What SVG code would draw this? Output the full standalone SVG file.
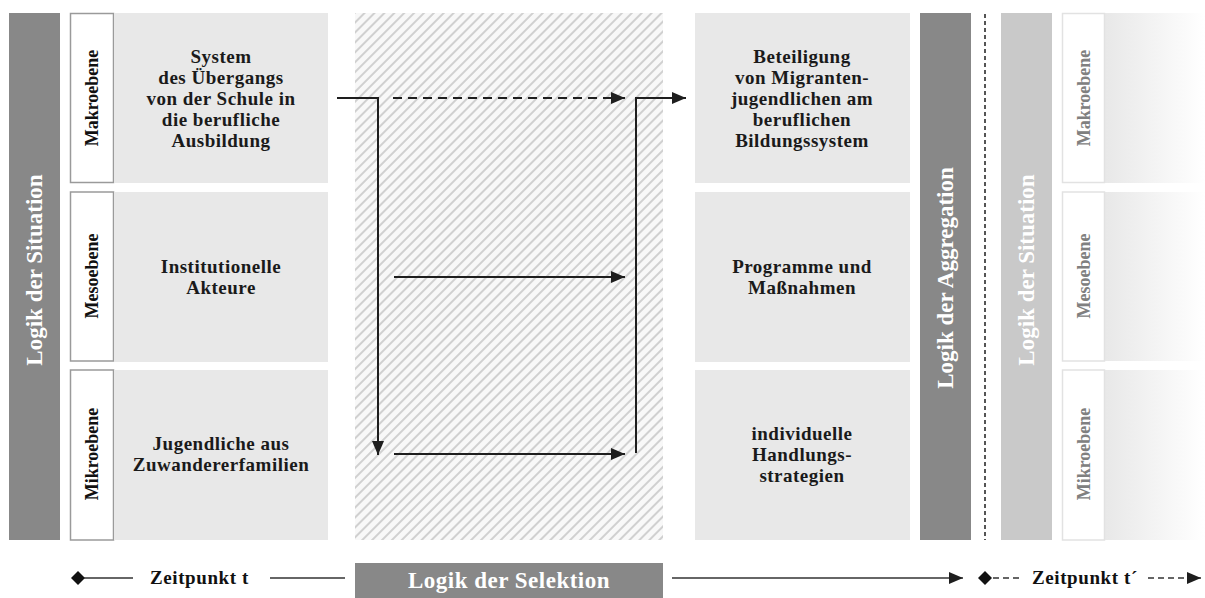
<svg xmlns="http://www.w3.org/2000/svg" width="1205" height="598" viewBox="0 0 1205 598">
<defs>
<style>
.t{font-family:"Liberation Serif","Times New Roman",serif;font-weight:bold;}
.ct{font-size:19px;fill:#1a1a1a;text-anchor:middle;letter-spacing:0.5px;}
.lv{font-size:18px;fill:#111;text-anchor:middle;}
.lvr{font-size:18px;fill:#808080;text-anchor:middle;}
.bar{font-size:23px;fill:#fff;text-anchor:middle;}
.box{fill:#e8e8e8;}
.lbox{fill:#fff;stroke:#9a9a9a;stroke-width:1.5;}
.rbox{fill:#fff;stroke:#e2e2e2;stroke-width:1.5;}
.dark{fill:#888888;}
.light{fill:#c9c9c9;}
.ln{stroke:#1e1e1e;stroke-width:2;fill:none;}
</style>
<pattern id="hatch" patternUnits="userSpaceOnUse" width="7" height="7" patternTransform="rotate(45)">
<rect width="7" height="7" fill="#f8f8f8"/>
<line x1="1" y1="0" x2="1" y2="7" stroke="#cccccc" stroke-width="1.8"/>
</pattern>
<linearGradient id="fade" x1="0" y1="0" x2="1" y2="0">
<stop offset="0" stop-color="#e8e8e8"/>
<stop offset="1" stop-color="#ffffff"/>
</linearGradient>
<marker id="ah" markerWidth="14" markerHeight="12" refX="14" refY="6" orient="auto" markerUnits="userSpaceOnUse">
<path d="M0,0 L14,6 L0,12 z" fill="#1e1e1e"/>
</marker>
</defs>
<rect width="1205" height="598" fill="#fff"/>

<g id="logik-situation-left">
<rect class="dark" x="9" y="13" width="51" height="527"/>
<text class="t bar" transform="translate(42,270) rotate(-90)">Logik der Situation</text>
</g>

<g id="level-makro-left">
<rect class="lbox" x="70.5" y="13.5" width="43" height="169"/>
<text class="t lv" transform="translate(98,98) rotate(-90)">Makroebene</text>
</g>
<g id="level-meso-left">
<rect class="lbox" x="70.5" y="192" width="43" height="169"/>
<text class="t lv" transform="translate(98,276) rotate(-90)">Mesoebene</text>
</g>
<g id="level-mikro-left">
<rect class="lbox" x="70.5" y="370" width="43" height="170"/>
<text class="t lv" transform="translate(98,454) rotate(-90)">Mikroebene</text>
</g>

<g id="node-system">
<rect class="box" x="114" y="13" width="214" height="170"/>
<text class="t ct" x="221" y="63">System</text>
<text class="t ct" x="221" y="84">des Übergangs</text>
<text class="t ct" x="221" y="105">von der Schule in</text>
<text class="t ct" x="221" y="126">die berufliche</text>
<text class="t ct" x="221" y="147">Ausbildung</text>
</g>
<g id="node-institutionelle">
<rect class="box" x="114" y="192" width="214" height="170"/>
<text class="t ct" x="221" y="273">Institutionelle</text>
<text class="t ct" x="221" y="294">Akteure</text>
</g>
<g id="node-jugendliche">
<rect class="box" x="114" y="370" width="214" height="170"/>
<text class="t ct" x="221" y="450">Jugendliche aus</text>
<text class="t ct" x="221" y="471">Zuwandererfamilien</text>
</g>

<g id="selektion-area">
<rect x="355" y="13" width="308" height="527" fill="url(#hatch)"/>
</g>

<g id="node-beteiligung">
<rect class="box" x="695" y="13" width="215" height="170"/>
<text class="t ct" x="802" y="63">Beteiligung</text>
<text class="t ct" x="802" y="84">von Migranten-</text>
<text class="t ct" x="802" y="105">jugendlichen am</text>
<text class="t ct" x="802" y="126">beruflichen</text>
<text class="t ct" x="802" y="147">Bildungssystem</text>
</g>
<g id="node-programme">
<rect class="box" x="695" y="192" width="215" height="170"/>
<text class="t ct" x="802" y="273">Programme und</text>
<text class="t ct" x="802" y="294">Maßnahmen</text>
</g>
<g id="node-individuelle">
<rect class="box" x="695" y="370" width="215" height="170"/>
<text class="t ct" x="802" y="440">individuelle</text>
<text class="t ct" x="802" y="461">Handlungs-</text>
<text class="t ct" x="802" y="482">strategien</text>
</g>

<g id="logik-aggregation">
<rect class="dark" x="920" y="13" width="51" height="527"/>
<text class="t bar" transform="translate(953,278) rotate(-90)">Logik der Aggregation</text>
</g>

<g id="divider">
<line x1="985" y1="14" x2="985" y2="540" stroke="#555" stroke-width="2" stroke-dasharray="4,3"/>
</g>

<g id="logik-situation-right">
<rect class="light" x="1001" y="13" width="51" height="527"/>
<text class="t bar" transform="translate(1034,270) rotate(-90)">Logik der Situation</text>
</g>

<g id="level-makro-right">
<rect x="1105" y="13" width="100" height="170" fill="url(#fade)"/>
<rect class="rbox" x="1062.5" y="13.5" width="42" height="169"/>
<text class="t lvr" transform="translate(1090,98) rotate(-90)">Makroebene</text>
</g>
<g id="level-meso-right">
<rect x="1105" y="192" width="100" height="169" fill="url(#fade)"/>
<rect class="rbox" x="1062.5" y="192" width="42" height="169"/>
<text class="t lvr" transform="translate(1090,276) rotate(-90)">Mesoebene</text>
</g>
<g id="level-mikro-right">
<rect x="1105" y="370" width="100" height="170" fill="url(#fade)"/>
<rect class="rbox" x="1062.5" y="370" width="42" height="170"/>
<text class="t lvr" transform="translate(1090,454) rotate(-90)">Mikroebene</text>
</g>

<g id="connectors">
<path class="ln" d="M337,98 H378 V455" marker-end="url(#ah)"/>
<path class="ln" d="M393,98 H625" stroke-dasharray="9,6" marker-end="url(#ah)"/>
<path class="ln" d="M394,277 H625" marker-end="url(#ah)"/>
<path class="ln" d="M394,454 H625" marker-end="url(#ah)"/>
<path class="ln" d="M636,453 V98 H686" marker-end="url(#ah)"/>
</g>

<g id="timeline">
<path d="M71,578 L78,571 L85,578 L78,585 z" fill="#111"/>
<line x1="84" y1="578" x2="133" y2="578" stroke="#333" stroke-width="1.5"/>
<text class="t" x="150" y="584" font-size="19" fill="#111" letter-spacing="0.6">Zeitpunkt t</text>
<line x1="270" y1="578" x2="345" y2="578" stroke="#333" stroke-width="1.5"/>
<g id="logik-selektion">
<rect class="dark" x="355" y="563" width="308" height="35"/>
<text class="t" x="509" y="588" font-size="23" fill="#fff" text-anchor="middle" letter-spacing="0.5">Logik der Selektion</text>
</g>
<line x1="672" y1="578" x2="963" y2="578" stroke="#333" stroke-width="1.5" marker-end="url(#ah)"/>
<path d="M978,578 L985,571 L992,578 L985,585 z" fill="#111"/>
<line x1="993" y1="578" x2="1022" y2="578" stroke="#333" stroke-width="1.5" stroke-dasharray="6,4"/>
<text class="t" x="1032" y="584" font-size="19" fill="#111" letter-spacing="0.6">Zeitpunkt t´</text>
<line x1="1148" y1="578" x2="1201" y2="578" stroke="#333" stroke-width="1.5" stroke-dasharray="6,4" marker-end="url(#ah)"/>
</g>
</svg>
